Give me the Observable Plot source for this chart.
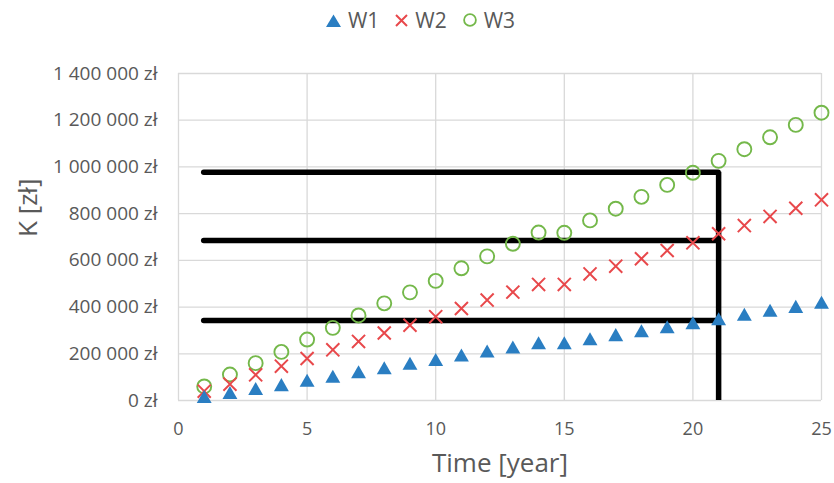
<!DOCTYPE html>
<html>
<head>
<meta charset="utf-8">
<script src="https://cdn.jsdelivr.net/npm/d3@7"></script>
<script src="https://cdn.jsdelivr.net/npm/@observablehq/plot@0.6"></script>
<style>
  body { margin: 0; background: #fff; font-family: "Open Sans", sans-serif; }
  #legend {
    height: 40px; display: flex; justify-content: center; align-items: center;
    padding-left: 7px; box-sizing: border-box; color: #595959; font-size: 21px;
  }
  #legend .item { display: flex; align-items: center; margin: 0 8px; }
  #legend svg { margin-right: 7px; }
</style>
</head>
<body>
<div id="legend"></div>
<div id="chart"></div>
<script>
// Years on the horizontal axis
const years = [1, 2, 3, 4, 5, 6, 7, 8, 9, 10, 11, 12, 13, 14, 15, 16, 17, 18, 19, 20, 21, 22, 23, 24, 25];

// Accumulated capital K [zł] for each variant
const w1 = [17000, 34000, 51000, 68000, 87000, 104000, 123000, 140000, 159000, 176000, 195000, 212000, 229000,
            247000, 247000, 264000, 282000, 299000, 316000, 333000, 350000, 369000, 386000, 403000, 421000];
const w2 = [40000, 70000, 110000, 147000, 180000, 217000, 253000, 289000, 322000, 359000, 394000, 430000, 464000,
            497000, 497000, 542000, 575000, 607000, 642000, 675000, 714000, 749000, 788000, 823000, 859000];
const w3 = [60000, 111000, 160000, 208000, 261000, 311000, 364000, 416000, 463000, 512000, 566000, 617000, 671000,
            719000, 718000, 771000, 821000, 872000, 923000, 975000, 1026000, 1076000, 1127000, 1180000, 1232000];

// Reference levels drawn as thick black guides, from year 1 to year 21
const refLevels = [342000, 685000, 977000];
const refStart = 1;
const refEnd = 21;

// Axis ticks
const xTicks = [0, 5, 10, 15, 20, 25];
const yTicks = [0, 200000, 400000, 600000, 800000, 1000000, 1200000, 1400000];

const seriesNames = ["W1", "W2", "W3"];
const colors = { W1: "#2A7EC2", W2: "#E8484B", W3: "#74B84A" };

const rows = years.flatMap((year, i) => [
  { year, value: w1[i], series: "W1" },
  { year, value: w2[i], series: "W2" },
  { year, value: w3[i], series: "W3" }
]);

// Upward triangle centred on its bounding box
const triangleBox = {
  draw(context, size) {
    const r = Math.sqrt(size / Math.PI);
    context.moveTo(0, -1.05 * r);
    context.lineTo(1.2 * r, 1.05 * r);
    context.lineTo(-1.2 * r, 1.05 * r);
    context.closePath();
  }
};

const fmtZl = d => d3.format(",")(d).replace(/,/g, " ") + " zł";
const textColor = "#595959";
const gridStyle = { stroke: "#d9d9d9", strokeOpacity: 1, strokeWidth: 1.3 };

const chart = Plot.plot({
  width: 834,
  height: 443,
  marginLeft: 178,
  marginRight: 13,
  marginTop: 33,
  marginBottom: 83,
  style: { fontFamily: "Open Sans", color: textColor, background: "#fff", overflow: "visible" },
  x: { domain: [0, 25] },
  y: { domain: [0, 1400000] },
  marks: [
    Plot.gridX({ ticks: xTicks, ...gridStyle }),
    Plot.gridY({ ticks: yTicks, ...gridStyle }),
    Plot.axisX({ ticks: xTicks, tickSize: 0, tickPadding: 22, fontSize: 18, label: null }),
    Plot.axisY({ ticks: yTicks, tickSize: 0, tickPadding: 21, fontSize: 19, tickFormat: fmtZl, label: null }),
    Plot.text(["Time [year]"], { text: d => d, frameAnchor: "bottom", dy: 71, fontSize: 26, fill: textColor }),
    Plot.text(["K [zł]"], { text: d => d, frameAnchor: "left", dx: -150, rotate: -90, fontSize: 26, fill: textColor }),
    // guide lines
    Plot.ruleY(refLevels, { y: d => d, x1: refStart, x2: refEnd, stroke: "#000", strokeWidth: 5.5, strokeLinecap: "round" }),
    Plot.ruleX([refEnd], { x: d => d, y1: 0, y2: d3.max(refLevels), stroke: "#000", strokeWidth: 5.5 }),
    // series markers
    Plot.dot(rows.filter(d => d.series === "W3"), {
      x: "year", y: "value", symbol: "circle", r: 7, stroke: colors.W3, strokeWidth: 1.9, fill: "none"
    }),
    Plot.dot(rows.filter(d => d.series === "W2"), {
      x: "year", y: "value", symbol: "times", r: 6, stroke: colors.W2, strokeWidth: 2
    }),
    Plot.dot(rows.filter(d => d.series === "W1"), {
      x: "year", y: "value", symbol: triangleBox, r: 6.2, fill: colors.W1, stroke: "none"
    })
  ]
});
document.getElementById("chart").appendChild(chart);

// Legend row above the chart
const icons = {
  W1: `<svg width="15" height="13"><polygon points="7.5,0.5 15,13 0,13" fill="${colors.W1}"/></svg>`,
  W2: `<svg width="13" height="13"><path d="M1,1L12,12M1,12L12,1" stroke="${colors.W2}" stroke-width="2"/></svg>`,
  W3: `<svg width="14" height="14"><circle cx="7" cy="7" r="5.9" fill="none" stroke="${colors.W3}" stroke-width="1.8"/></svg>`
};
document.getElementById("legend").innerHTML = seriesNames
  .map(name => `<span class="item">${icons[name]}<span>${name}</span></span>`)
  .join("");
</script>
</body>
</html>
